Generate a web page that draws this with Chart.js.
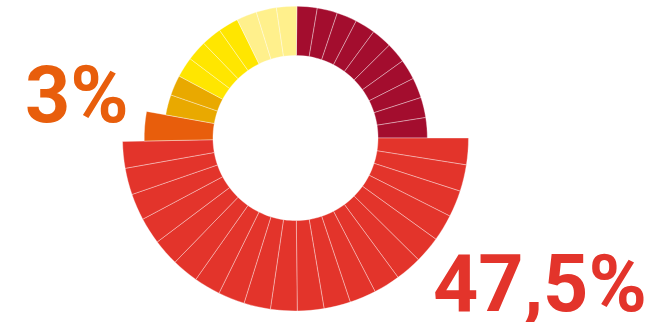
<!DOCTYPE html>
<html>
<head>
<meta charset="utf-8">
<script src="https://cdn.jsdelivr.net/npm/chart.js@4/dist/chart.umd.min.js"></script>
<style>
    html, body { margin: 0; padding: 0; background: #fff; }
    .wrap { position: relative; width: 656px; height: 322px; overflow: hidden; }
    canvas { position: absolute; left: 0; top: 0; }
    .share {
        position: absolute;
        font-family: Roboto, sans-serif;
        font-weight: 700;
        font-size: 79px;
        line-height: 79px;
        white-space: nowrap;
    }
    #shareOrange { left: 25px; top: 56px; color: #E85E0C; }
    #shareRed { left: 433px; top: 245px; color: #E3342B; }
</style>
</head>
<body>
<div class="wrap">
    <canvas id="seatChart" width="656" height="322"></canvas>
    <div class="share" id="shareOrange"></div>
    <div class="share" id="shareRed"></div>
</div>
<script>
// groups in clockwise order starting at 12 o'clock
const groups = ['wine', 'red', 'orange', 'amber', 'yellow', 'paleYellow'];
const shares = [23.75, 47.5, 3, 4.75, 9.5, 7.125];
// how many wedges each group is cut into
const wedges = [10, 20, 1, 2, 4, 3];
const shareLabels = { red: '47,5%', orange: '3%' };

const colors = {
    wine: '#A30D2E',
    red: '#E3342B',
    orange: '#E85E0C',
    amber: '#E9A900',
    yellow: '#FFE600',
    paleYellow: '#FFF08C'
};
// how far each group's wedges reach out between the hole and the full radius
const reach = {
    wine: 0.545,
    red: 1,
    orange: 0.76,
    amber: 0.545,
    yellow: 0.545,
    paleYellow: 0.545
};

// split every group share into its equal wedges
const wedgeGroup = [];
const wedgeValues = [];
groups.forEach((g, i) => {
    for (let k = 0; k < wedges[i]; k++) {
        wedgeGroup.push(g);
        wedgeValues.push(shares[i] / wedges[i]);
    }
});

const reachPlugin = {
    id: 'wedgeReach',
    afterDatasetsUpdate(chart) {
        chart.getDatasetMeta(0).data.forEach((arc, i) => {
            const r = reach[wedgeGroup[i]];
            arc.outerRadius = arc.innerRadius + (arc.outerRadius - arc.innerRadius) * r;
        });
    }
};

new Chart(document.getElementById('seatChart'), {
    type: 'doughnut',
    data: {
        labels: wedgeGroup,
        datasets: [{
            data: wedgeValues,
            backgroundColor: wedgeGroup.map(g => colors[g]),
            borderColor: 'rgba(255,255,255,0.35)',
            borderWidth: 1,
            clip: false
        }]
    },
    options: {
        responsive: false,
        animation: false,
        radius: 173,
        cutout: '47.7%',
        // small turn so the red half sits level on both sides
        rotation: 0.6,
        layout: { padding: { right: 65, bottom: 46 } },
        plugins: {
            legend: { display: false },
            tooltip: { enabled: false }
        }
    },
    plugins: [reachPlugin]
});

document.getElementById('shareOrange').textContent = shareLabels.orange;
document.getElementById('shareRed').textContent = shareLabels.red;
</script>
</body>
</html>
